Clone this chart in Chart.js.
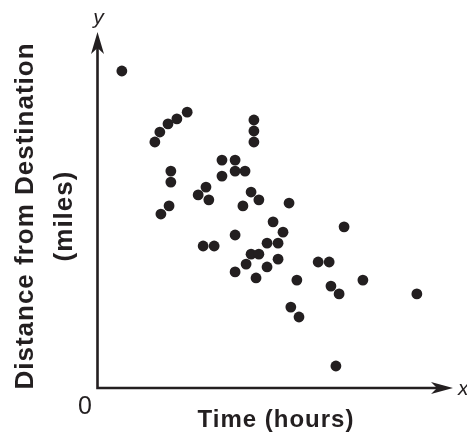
<!DOCTYPE html>
<html>
<head>
<meta charset="utf-8">
<script src="https://cdn.jsdelivr.net/npm/chart.js@4"></script>
<style>
  html, body { margin: 0; padding: 0; background: #fff; }
  #wrap { width: 467px; height: 439px; }
</style>
</head>
<body>
<div id="wrap"><canvas id="chart" width="467" height="439"></canvas></div>
<script>
// time (hours) and distance (miles), arbitrary units 0..10
const timeHours = [
    0.70, 1.63, 1.77, 2.00, 2.25, 2.54, 4.42, 4.42, 4.42, 2.08,
    2.08, 3.52, 3.89, 3.52, 3.89, 4.17, 3.07, 2.85, 3.15, 2.03,
    1.80, 4.34, 4.56, 4.11, 5.41, 4.96, 5.24, 3.89, 2.99, 3.30,
    4.79, 5.10, 4.34, 4.56, 5.10, 4.20, 4.79, 3.89, 4.48, 5.63,
    6.23, 6.54, 6.96, 6.59, 6.82, 7.49, 9.01, 5.46, 5.69, 6.73
];
const distanceMiles = [
    8.93, 6.93, 7.21, 7.44, 7.58, 7.77, 7.55, 7.24, 6.93, 6.11,
    5.80, 6.42, 6.42, 5.97, 6.11, 6.11, 5.66, 5.44, 5.30, 5.13,
    4.90, 5.52, 5.30, 5.13, 5.21, 4.68, 4.39, 4.31, 4.00, 4.00,
    4.08, 4.08, 3.77, 3.77, 3.63, 3.49, 3.41, 3.27, 3.10, 3.04,
    3.55, 3.55, 4.54, 2.87, 2.65, 3.04, 2.65, 2.28, 2.00, 0.62
];

const xTitle = 'Time (hours)';
const yTitle = ['Distance from Destination', '(miles)'];

const INK = '#231f20';

// осевые стрелки и подписи
const axesPlugin = {
    id: 'axesArrows',
    afterDraw(chart) {
        const ctx = chart.ctx;
        const a = chart.chartArea;
        const x0 = a.left + 0.5, y0 = a.bottom;
        ctx.save();
        ctx.strokeStyle = INK;
        ctx.fillStyle = INK;
        ctx.lineWidth = 2.6;
        ctx.beginPath();
        ctx.moveTo(x0, a.top + 14);
        ctx.lineTo(x0, y0);
        ctx.lineTo(a.right - 14, y0);
        ctx.stroke();

        // y arrow
        ctx.beginPath();
        ctx.moveTo(x0, a.top - 1);
        ctx.lineTo(x0 + 6.5, a.top + 21);
        ctx.lineTo(x0, a.top + 15);
        ctx.lineTo(x0 - 6.5, a.top + 21);
        ctx.closePath();
        ctx.fill();
        // x arrow
        ctx.beginPath();
        ctx.moveTo(a.right + 1, y0);
        ctx.lineTo(a.right - 21, y0 - 6);
        ctx.lineTo(a.right - 15, y0);
        ctx.lineTo(a.right - 21, y0 + 6);
        ctx.closePath();
        ctx.fill();

        ctx.textAlign = 'center';
        ctx.textBaseline = 'middle';

        ctx.font = 'italic 21px "Liberation Sans"';
        ctx.fillText('y', x0 + 1, 18);
        ctx.textAlign = 'left';
        ctx.fillText('x', a.right + 6, y0 + 1);

        ctx.textAlign = 'center';
        ctx.font = '25px "Liberation Sans"';
        ctx.fillText('0', 85, 407);

        ctx.font = 'bold 24px "Liberation Sans"';
        ctx.letterSpacing = '1px';
        ctx.fillText(xTitle, 276, 420);

        ctx.font = 'bold 26px "Liberation Sans"';
        ctx.translate(26, 216);
        ctx.rotate(-Math.PI / 2);
        ctx.fillText(yTitle[0], 0, 0);
        ctx.fillText(yTitle[1], 0, 39);
        ctx.restore();
    }
};

const points = timeHours.map((t, i) => ({ x: t, y: distanceMiles[i] }));

new Chart(document.getElementById('chart').getContext('2d'), {
    type: 'scatter',
    data: {
        datasets: [{
            data: points,
            backgroundColor: INK,
            borderColor: INK,
            borderWidth: 0,
            pointRadius: 5.4,
            clip: false
        }]
    },
    options: {
        responsive: false,
        animation: false,
        layout: { padding: { left: 97, top: 33, right: 15, bottom: 51 } },
        plugins: { legend: { display: false }, tooltip: { enabled: false } },
        scales: {
            x: { display: false, min: 0, max: 10 },
            y: { display: false, min: 0, max: 10 }
        }
    },
    plugins: [axesPlugin]
});
</script>
</body>
</html>
